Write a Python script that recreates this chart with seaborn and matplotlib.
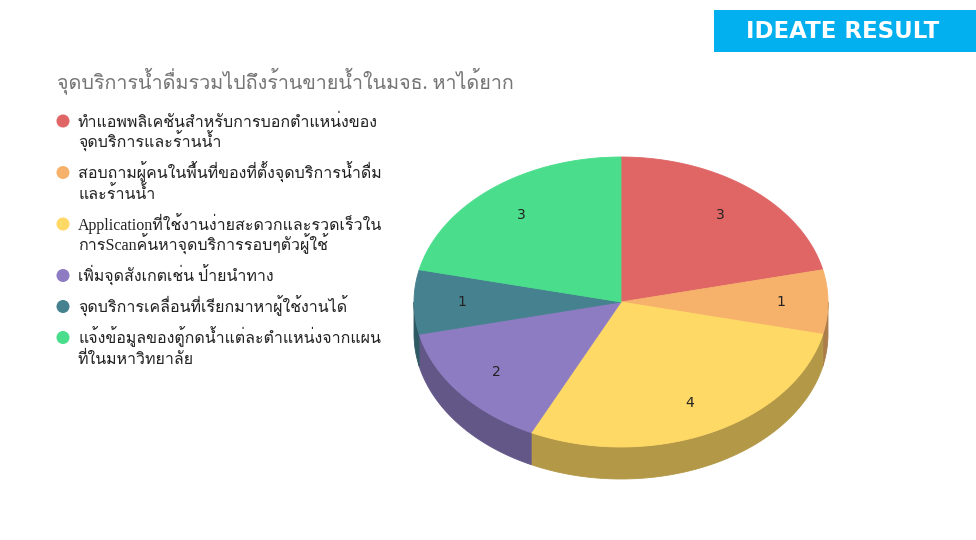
#!/usr/bin/env python3
import numpy as np
import matplotlib
matplotlib.use("Agg")
import matplotlib.pyplot as plt
import seaborn as sns
from matplotlib import font_manager
from matplotlib.ft2font import FT2Font
from matplotlib.patches import Rectangle, Circle

# Data
title = "จุดบริการน้ำดื่มรวมไปถึงร้านขายน้ำในมจธ. หาได้ยาก"
labels = [
    "ทำแอพพลิเคชันสำหรับการบอกตำแหน่งของ\nจุดบริการและร้านน้ำ",
    "สอบถามผู้คนในพื้นที่ของที่ตั้งจุดบริการน้ำดื่ม\nและร้านน้ำ",
    "Applicationที่ใช้งานง่ายสะดวกและรวดเร็วใน\nการScanค้นหาจุดบริการรอบๆตัวผู้ใช้",
    "เพิ่มจุดสังเกตเช่น ป้ายนำทาง",
    "จุดบริการเคลื่อนที่เรียกมาหาผู้ใช้งานได้",
    "แจ้งข้อมูลของตู้กดน้ำแต่ละตำแหน่งจากแผน\nที่ในมหาวิทยาลัย",
]
values = [3, 1, 4, 2, 1, 3]
colors = ["#E06666", "#F6B26B", "#FFD966", "#8E7CC3", "#45818E", "#4ADE8C"]
banner_text = "IDEATE RESULT"


def find_thai_font():
    """Look for an installed family that covers Thai script."""
    found = []
    for f in font_manager.fontManager.ttflist:
        try:
            if 0x0E01 in FT2Font(f.fname).get_charmap():
                found.append(f.name)
        except Exception:
            pass
    # Loma is the closest match to the Tahoma-like face in the reference
    for pref in ["Loma", "Tahoma", "Noto Sans Thai Looped", "Noto Sans Thai"]:
        if pref in found:
            return pref
    return found[0] if found else None


sns.set_theme(style="white")
thai = find_thai_font()
fams = ([thai] if thai else []) + ["DejaVu Sans"]
plt.rcParams["font.family"] = fams
# latin words inside the Thai text show up in a serif face in the reference
serif_mix = ["Liberation Serif"] + fams

fig = plt.figure(figsize=(9.76, 5.4), dpi=100)
ax = fig.add_axes([0, 0, 1, 1])
ax.set_xlim(0, 976)
ax.set_ylim(540, 0)
ax.axis("off")

# banner
ax.add_patch(Rectangle((714, 10), 262, 42, color="#03B0EF", lw=0))
ax.text(843, 31.5, banner_text, color="white", fontsize=16.5, fontweight="bold",
        ha="center", va="center", family="DejaVu Sans")

# title
ax.text(57, 88, title, color="#757575", fontsize=14.2, va="baseline", ha="left",
        family=serif_mix)

# legend, one text per line so the baselines stay evenly spaced
y = 121
for lab, col in zip(labels, colors):
    lines = lab.split("\n")
    ax.add_patch(Circle((63, y), 6.5, color=col, lw=0))
    for k, line in enumerate(lines):
        ax.text(78, y + 6 + 20.5 * k, line, color="#222222", fontsize=11.5,
                va="baseline", ha="left", family=serif_mix)
    y += 20.5 * len(lines) + 10.5

# 3D pie
cx, cy, rx, ry, depth = 621, 302, 207, 145, 32
total = sum(values)
bounds = np.concatenate([[0], np.cumsum(values)]) / total * 360.0


def ellipse_pts(a0, a1, dy=0.0, n=80):
    t = np.radians(np.linspace(a0, a1, n))
    return cx + rx * np.sin(t), cy - ry * np.cos(t) + dy


def darker(c, f=0.7):
    r, g, b = matplotlib.colors.to_rgb(c)
    return (r * f, g * f, b * f)


# side walls (front half only: 90..270 degrees)
for i, col in enumerate(colors):
    a0, a1 = max(bounds[i], 90), min(bounds[i + 1], 270)
    if a1 <= a0:
        continue
    xt, yt = ellipse_pts(a0, a1)
    xb, yb = ellipse_pts(a1, a0, dy=depth)
    ax.fill(np.concatenate([xt, xb]), np.concatenate([yt, yb]),
            color=darker(col), lw=0.6, ec=darker(col))

# top faces
for i, col in enumerate(colors):
    xs, ys = ellipse_pts(bounds[i], bounds[i + 1])
    ax.fill(np.concatenate([[cx], xs]), np.concatenate([[cy], ys]),
            color=col, lw=0.6, ec=col)
    mid = np.radians((bounds[i] + bounds[i + 1]) / 2)
    ax.text(cx + 0.77 * rx * np.sin(mid), cy - 0.77 * ry * np.cos(mid),
            str(values[i]), fontsize=10, color="#222222", ha="center", va="center",
            family="DejaVu Sans")

fig.savefig("out.png", dpi=100, facecolor="white")
